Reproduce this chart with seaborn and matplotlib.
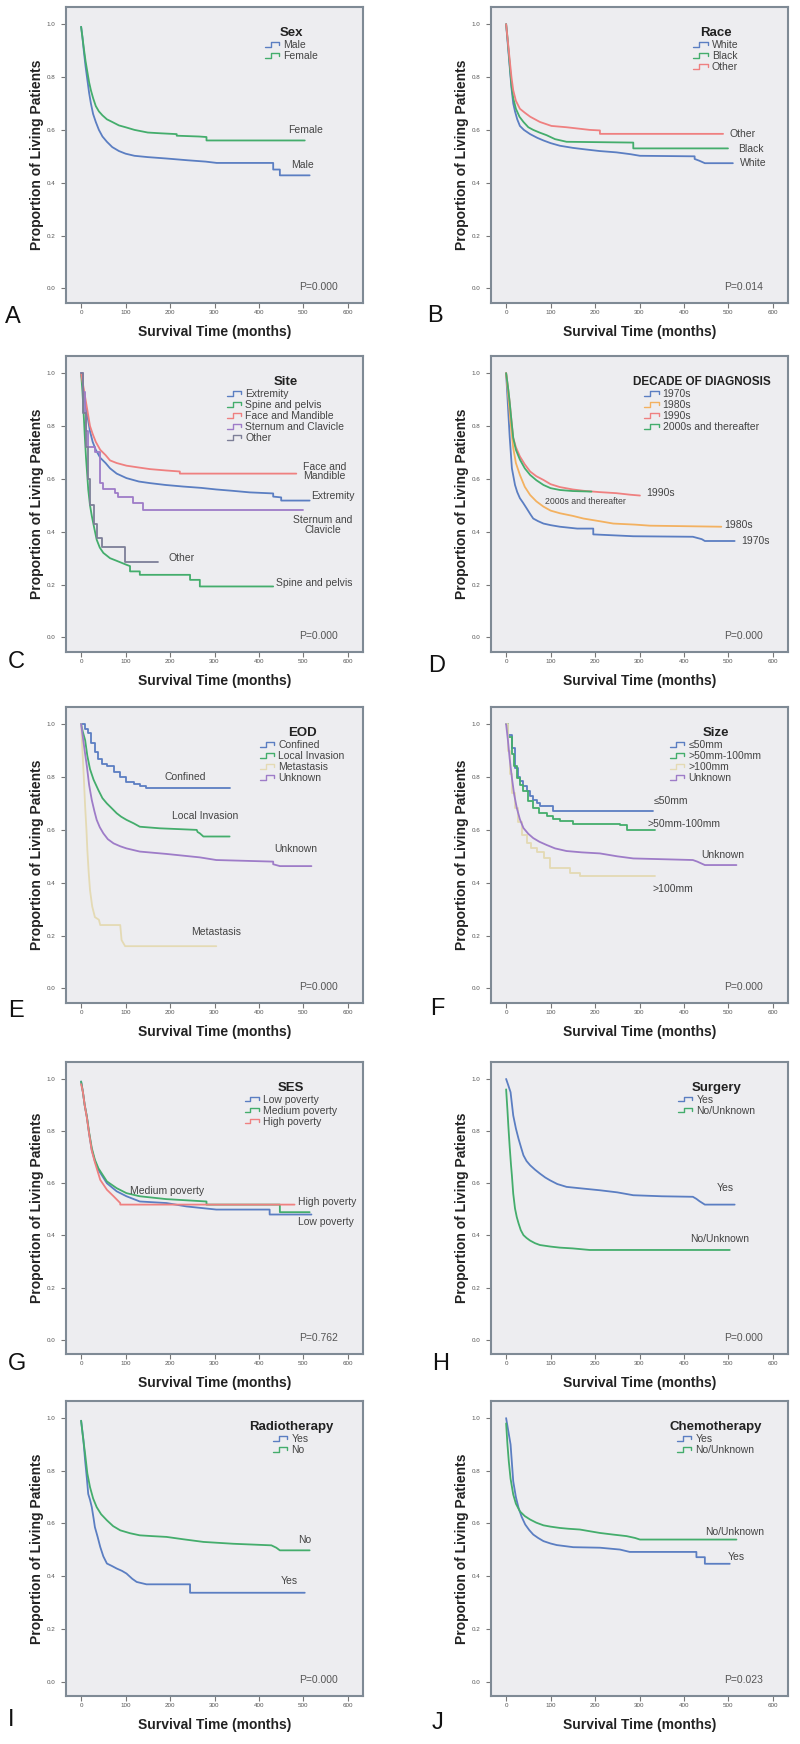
import numpy as np
import pandas as pd
import matplotlib.pyplot as plt
import seaborn as sns
from matplotlib.lines import Line2D
from matplotlib.legend_handler import HandlerBase

# ---- data (months, proportion alive) ----
# repeated times mark a vertical drop of the survival curve
# A: Sex
A_male_t = [0, 3, 6, 10, 14, 18, 22, 27, 33, 40, 48, 58, 70, 85, 100, 120, 150, 190, 240, 280, 305, 432, 432, 447, 447, 514]
A_male_s = [0.99, 0.95, 0.9, 0.84, 0.79, 0.74, 0.70, 0.66, 0.63, 0.60, 0.575, 0.555, 0.535, 0.52, 0.51, 0.502, 0.497, 0.492, 0.485, 0.48, 0.475, 0.475, 0.45, 0.45, 0.428, 0.428]
A_female_t = [0, 3, 6, 10, 14, 18, 22, 27, 33, 40, 48, 58, 70, 85, 100, 120, 150, 180, 215, 215, 265, 282, 282, 503]
A_female_s = [0.99, 0.95, 0.91, 0.86, 0.82, 0.78, 0.75, 0.72, 0.69, 0.67, 0.655, 0.64, 0.63, 0.617, 0.61, 0.6, 0.59, 0.587, 0.584, 0.578, 0.575, 0.573, 0.56, 0.56]

# B: Race
B_white_t = [0, 3, 6, 9, 12, 16, 20, 25, 31, 40, 54, 70, 84, 100, 121, 150, 174, 210, 248, 280, 301, 424, 424, 435, 447, 510]
B_white_s = [1.0, 0.94, 0.88, 0.82, 0.76, 0.70, 0.67, 0.64, 0.615, 0.6, 0.584, 0.57, 0.56, 0.55, 0.54, 0.532, 0.527, 0.52, 0.515, 0.508, 0.502, 0.5, 0.49, 0.483, 0.474, 0.474]
B_black_t = [0, 3, 6, 9, 12, 16, 22, 30, 39, 50, 61, 75, 91, 110, 136, 286, 286, 499]
B_black_s = [1.0, 0.95, 0.89, 0.83, 0.77, 0.72, 0.68, 0.65, 0.63, 0.61, 0.6, 0.59, 0.58, 0.565, 0.555, 0.552, 0.53, 0.53]
B_other_t = [0, 3, 6, 9, 12, 16, 22, 31, 42, 54, 65, 76, 102, 136, 188, 211, 211, 488]
B_other_s = [1.0, 0.95, 0.9, 0.85, 0.8, 0.75, 0.71, 0.68, 0.665, 0.65, 0.64, 0.63, 0.615, 0.61, 0.6, 0.598, 0.585, 0.585]

# C: Site
C_ext_t = [0, 4, 8, 12, 16, 20, 26, 33, 43, 55, 65, 80, 102, 130, 155, 190, 230, 270, 304, 340, 379, 432, 432, 450, 450, 514]
C_ext_s = [1.0, 0.95, 0.9, 0.86, 0.82, 0.78, 0.74, 0.71, 0.68, 0.66, 0.64, 0.62, 0.603, 0.59, 0.584, 0.577, 0.571, 0.566, 0.56, 0.555, 0.549, 0.545, 0.533, 0.53, 0.518, 0.518]
C_spine_t = [0, 3, 5, 8, 11, 14, 16, 20, 24, 30, 35, 42, 50, 65, 80, 102, 110, 110, 132, 132, 245, 245, 267, 267, 432]
C_spine_s = [1.0, 0.93, 0.87, 0.77, 0.68, 0.61, 0.56, 0.5, 0.46, 0.41, 0.37, 0.34, 0.32, 0.3, 0.29, 0.275, 0.27, 0.25, 0.25, 0.237, 0.237, 0.218, 0.218, 0.193, 0.193]
C_face_t = [0, 4, 8, 12, 16, 20, 26, 33, 43, 55, 65, 80, 102, 130, 155, 190, 222, 222, 484]
C_face_s = [1.0, 0.96, 0.92, 0.88, 0.84, 0.8, 0.77, 0.74, 0.71, 0.69, 0.67, 0.66, 0.65, 0.643, 0.637, 0.632, 0.628, 0.62, 0.62]
C_stern_t = [0, 4, 8, 12, 16, 31, 43, 50, 76, 84, 117, 140, 499]
C_stern_s = [1.0, 0.93, 0.85, 0.78, 0.72, 0.70, 0.584, 0.56, 0.546, 0.533, 0.508, 0.483, 0.483]
C_other_t = [0, 5, 10, 15, 20, 28, 35, 46, 99, 174]
C_other_s = [1.0, 0.85, 0.72, 0.6, 0.5, 0.43, 0.375, 0.344, 0.284, 0.284]

# D: Decade of diagnosis
D_1970_t = [0, 4, 8, 13, 20, 25, 31, 38, 46, 55, 61, 72, 84, 100, 121, 160, 196, 196, 286, 420, 440, 447, 514]
D_1970_s = [1.0, 0.88, 0.76, 0.64, 0.577, 0.55, 0.527, 0.51, 0.489, 0.465, 0.45, 0.44, 0.431, 0.425, 0.419, 0.412, 0.412, 0.39, 0.383, 0.381, 0.372, 0.365, 0.365]
D_1980_t = [0, 4, 8, 12, 16, 22, 31, 42, 54, 68, 84, 100, 121, 150, 174, 210, 241, 290, 323, 484]
D_1980_s = [1.0, 0.93, 0.85, 0.78, 0.717, 0.66, 0.615, 0.57, 0.539, 0.515, 0.495, 0.48, 0.47, 0.46, 0.45, 0.44, 0.431, 0.427, 0.423, 0.419]
D_1990_t = [0, 4, 8, 12, 16, 22, 31, 42, 54, 68, 84, 100, 121, 150, 174, 210, 248, 280, 301]
D_1990_s = [1.0, 0.95, 0.89, 0.82, 0.755, 0.72, 0.685, 0.655, 0.628, 0.61, 0.596, 0.58, 0.569, 0.56, 0.555, 0.55, 0.546, 0.54, 0.537]
D_2000_t = [0, 4, 8, 12, 16, 22, 31, 42, 54, 68, 84, 100, 121, 150, 192]
D_2000_s = [1.0, 0.95, 0.89, 0.82, 0.755, 0.71, 0.673, 0.64, 0.615, 0.595, 0.577, 0.565, 0.558, 0.554, 0.552]

# E: EOD
E_conf_t = [0, 9, 16, 23, 31, 39, 46, 58, 73, 88, 102, 118, 132, 147, 334]
E_conf_s = [1.0, 0.98, 0.966, 0.93, 0.896, 0.87, 0.85, 0.84, 0.82, 0.8, 0.783, 0.775, 0.766, 0.76, 0.76]
E_local_t = [0, 4, 9, 14, 20, 28, 39, 48, 58, 70, 80, 90, 102, 118, 132, 177, 260, 262, 267, 275, 334]
E_local_s = [1.0, 0.97, 0.94, 0.88, 0.83, 0.79, 0.75, 0.72, 0.70, 0.68, 0.663, 0.65, 0.638, 0.625, 0.612, 0.606, 0.6, 0.592, 0.587, 0.575, 0.575]
E_meta_t = [0, 3, 6, 9, 12, 14, 17, 20, 25, 31, 40, 43, 88, 91, 99, 304]
E_meta_s = [1.0, 0.9, 0.8, 0.69, 0.6, 0.524, 0.44, 0.372, 0.31, 0.27, 0.26, 0.24, 0.24, 0.183, 0.16, 0.16]
E_unk_t = [0, 4, 8, 13, 18, 24, 30, 35, 42, 50, 60, 73, 88, 102, 132, 192, 267, 304, 432, 432, 447, 518]
E_unk_s = [1.0, 0.95, 0.9, 0.84, 0.77, 0.713, 0.67, 0.638, 0.61, 0.587, 0.565, 0.549, 0.538, 0.53, 0.518, 0.509, 0.496, 0.486, 0.48, 0.47, 0.463, 0.463]

# F: Size
F_le50_t = [0, 5, 13, 20, 26, 31, 38, 46, 54, 61, 70, 76, 106, 331]
F_le50_s = [1.0, 0.96, 0.91, 0.835, 0.8, 0.784, 0.765, 0.746, 0.73, 0.714, 0.7, 0.689, 0.673, 0.673]
F_mid_t = [0, 5, 13, 18, 24, 31, 39, 50, 61, 75, 91, 105, 121, 151, 256, 271, 334]
F_mid_s = [1.0, 0.95, 0.886, 0.84, 0.797, 0.77, 0.746, 0.71, 0.683, 0.665, 0.651, 0.64, 0.632, 0.622, 0.619, 0.6, 0.6]
F_gt100_t = [0, 4, 9, 14, 20, 27, 35, 46, 57, 69, 85, 99, 144, 166, 334]
F_gt100_s = [1.0, 0.9, 0.81, 0.74, 0.683, 0.63, 0.581, 0.55, 0.53, 0.518, 0.492, 0.454, 0.435, 0.425, 0.425]
F_unk_t = [0, 4, 8, 13, 18, 24, 31, 39, 50, 61, 75, 91, 110, 136, 170, 211, 250, 286, 420, 430, 447, 518]
F_unk_s = [1.0, 0.94, 0.87, 0.797, 0.735, 0.683, 0.64, 0.607, 0.585, 0.569, 0.555, 0.543, 0.53, 0.52, 0.515, 0.511, 0.5, 0.492, 0.486, 0.48, 0.467, 0.467]

# G: SES
G_low_t = [0, 4, 8, 13, 18, 24, 31, 39, 58, 80, 102, 132, 192, 237, 304, 424, 424, 518]
G_low_s = [0.99, 0.95, 0.9, 0.854, 0.79, 0.727, 0.685, 0.651, 0.6, 0.569, 0.55, 0.53, 0.524, 0.511, 0.499, 0.499, 0.48, 0.48]
G_med_t = [0, 4, 8, 13, 18, 24, 31, 39, 58, 80, 102, 132, 192, 282, 282, 447, 447, 514]
G_med_s = [0.99, 0.95, 0.9, 0.855, 0.795, 0.735, 0.69, 0.657, 0.607, 0.581, 0.562, 0.55, 0.539, 0.53, 0.518, 0.518, 0.489, 0.489]
G_high_t = [0, 4, 8, 13, 18, 24, 31, 43, 58, 73, 88, 88, 480]
G_high_s = [0.98, 0.95, 0.9, 0.85, 0.79, 0.725, 0.68, 0.613, 0.575, 0.55, 0.524, 0.518, 0.518]

# H: Surgery
H_yes_t = [0, 5, 10, 16, 22, 28, 34, 39, 46, 54, 65, 76, 88, 99, 115, 136, 170, 211, 250, 286, 350, 420, 428, 435, 447, 514]
H_yes_s = [1.0, 0.975, 0.949, 0.86, 0.81, 0.77, 0.735, 0.707, 0.685, 0.669, 0.652, 0.637, 0.622, 0.611, 0.597, 0.586, 0.58, 0.573, 0.565, 0.554, 0.55, 0.548, 0.54, 0.531, 0.518, 0.518]
H_no_t = [0, 3, 5, 8, 11, 13, 16, 20, 24, 28, 33, 39, 46, 54, 65, 76, 100, 121, 150, 188, 503]
H_no_s = [0.96, 0.88, 0.82, 0.74, 0.67, 0.63, 0.56, 0.503, 0.47, 0.446, 0.42, 0.401, 0.39, 0.38, 0.37, 0.363, 0.357, 0.353, 0.35, 0.344, 0.344]

# I: Radiotherapy
I_yes_t = [0, 5, 9, 13, 16, 20, 24, 28, 31, 37, 43, 50, 58, 70, 80, 92, 102, 115, 125, 147, 245, 245, 503]
I_yes_s = [0.99, 0.92, 0.839, 0.77, 0.712, 0.69, 0.662, 0.62, 0.586, 0.55, 0.511, 0.475, 0.448, 0.438, 0.429, 0.42, 0.41, 0.39, 0.378, 0.369, 0.369, 0.337, 0.337]
I_no_t = [0, 4, 9, 14, 20, 27, 35, 45, 58, 72, 88, 110, 132, 160, 192, 230, 275, 342, 428, 439, 447, 514]
I_no_s = [0.99, 0.93, 0.864, 0.79, 0.738, 0.695, 0.662, 0.635, 0.612, 0.59, 0.574, 0.563, 0.555, 0.552, 0.549, 0.54, 0.53, 0.523, 0.517, 0.508, 0.498, 0.498]

# J: Chemotherapy
J_yes_t = [0, 5, 10, 16, 22, 28, 35, 43, 52, 61, 72, 84, 100, 114, 151, 211, 256, 278, 428, 428, 447, 447, 503]
J_yes_s = [1.0, 0.95, 0.9, 0.76, 0.7, 0.659, 0.625, 0.596, 0.575, 0.558, 0.545, 0.533, 0.524, 0.518, 0.51, 0.508, 0.501, 0.492, 0.492, 0.472, 0.472, 0.447, 0.447]
J_no_t = [0, 3, 6, 10, 16, 22, 31, 42, 54, 68, 84, 100, 121, 140, 166, 190, 211, 240, 271, 290, 301, 518]
J_no_s = [0.98, 0.9, 0.836, 0.77, 0.71, 0.675, 0.646, 0.628, 0.615, 0.603, 0.593, 0.588, 0.583, 0.58, 0.577, 0.57, 0.564, 0.558, 0.552, 0.545, 0.539, 0.539]

p_values = ['P=0.000', 'P=0.014', 'P=0.000', 'P=0.000', 'P=0.000',
            'P=0.000', 'P=0.762', 'P=0.000', 'P=0.000', 'P=0.023']

BLUE, GREEN, RED = '#5B7EC2', '#44AD6C', '#EF8080'
PURPLE, BEIGE, ORANGE, SLATE = '#9E7CC8', '#E4DAB4', '#F3B160', '#7D7F98'

# 'S' = drawn as a staircase (steps-post), 'L' = plain line through the points
panels = [
    dict(letter='A', title='Sex', groups=['Male', 'Female'],
         curves=[(A_male_t, A_male_s), (A_female_t, A_female_s)], colors=[BLUE, GREEN], styles='LL',
         labels=[('Female', 465, 0.60, 'left'), ('Male', 473, 0.466, 'left')], leg_x=0.76),
    dict(letter='B', title='Race', groups=['White', 'Black', 'Other'],
         curves=[(B_white_t, B_white_s), (B_black_t, B_black_s), (B_other_t, B_other_s)],
         colors=[BLUE, GREEN, RED], styles='LLL',
         labels=[('Other', 503, 0.584, 'left'), ('Black', 521, 0.527, 'left'),
                 ('White', 525, 0.474, 'left')], leg_x=0.757),
    dict(letter='C', title='Site',
         groups=['Extremity', 'Spine and pelvis', 'Face and Mandible', 'Sternum and Clavicle', 'Other'],
         curves=[(C_ext_t, C_ext_s), (C_spine_t, C_spine_s), (C_face_t, C_face_s),
                 (C_stern_t, C_stern_s), (C_other_t, C_other_s)],
         colors=[BLUE, GREEN, RED, PURPLE, SLATE], styles='LLLSS',
         labels=[('Face and\nMandible', 547, 0.628, 'center'), ('Extremity', 518, 0.536, 'left'),
                 ('Sternum and\nClavicle', 544, 0.425, 'center'), ('Other', 196, 0.30, 'left'),
                 ('Spine and pelvis', 439, 0.206, 'left')], leg_x=0.74),
    dict(letter='D', title='DECADE OF DIAGNOSIS', groups=['1970s', '1980s', '1990s', '2000s and thereafter'],
         curves=[(D_1970_t, D_1970_s), (D_1980_t, D_1980_s), (D_1990_t, D_1990_s), (D_2000_t, D_2000_s)],
         colors=[BLUE, ORANGE, RED, GREEN], styles='LLLL',
         labels=[('1990s', 316, 0.546, 'left'), ('1980s', 491, 0.425, 'left'),
                 ('1970s', 529, 0.364, 'left'), ('2000s and thereafter', 88, 0.514, 'left', 6.3)],
         leg_x=0.709, title_size=8.5),
    dict(letter='E', title='EOD', groups=['Confined', 'Local Invasion', 'Metastasis', 'Unknown'],
         curves=[(E_conf_t, E_conf_s), (E_local_t, E_local_s), (E_meta_t, E_meta_s), (E_unk_t, E_unk_s)],
         colors=[BLUE, GREEN, BEIGE, PURPLE], styles='SLLL',
         labels=[('Confined', 188, 0.80, 'left'), ('Local Invasion', 204, 0.653, 'left'),
                 ('Unknown', 435, 0.527, 'left'), ('Metastasis', 248, 0.215, 'left')], leg_x=0.796),
    dict(letter='F', title='Size', groups=['≤50mm', '>50mm-100mm', '>100mm', 'Unknown'],
         curves=[(F_le50_t, F_le50_s), (F_mid_t, F_mid_s), (F_gt100_t, F_gt100_s), (F_unk_t, F_unk_s)],
         colors=[BLUE, GREEN, BEIGE, PURPLE], styles='SSSL',
         labels=[('≤50mm', 331, 0.708, 'left'), ('>50mm-100mm', 319, 0.622, 'left'),
                 ('Unknown', 439, 0.505, 'left'), ('>100mm', 330, 0.378, 'left')], leg_x=0.757),
    dict(letter='G', title='SES', groups=['Low poverty', 'Medium poverty', 'High poverty'],
         curves=[(G_low_t, G_low_s), (G_med_t, G_med_s), (G_high_t, G_high_s)],
         colors=[BLUE, GREEN, RED], styles='LLL',
         labels=[('Medium poverty', 110, 0.569, 'left'), ('High poverty', 488, 0.527, 'left'),
                 ('Low poverty', 488, 0.45, 'left')], leg_x=0.757),
    dict(letter='H', title='Surgery', groups=['Yes', 'No/Unknown'],
         curves=[(H_yes_t, H_yes_s), (H_no_t, H_no_s)], colors=[BLUE, GREEN], styles='LL',
         labels=[('Yes', 473, 0.58, 'left'), ('No/Unknown', 413, 0.385, 'left')], leg_x=0.76),
    dict(letter='I', title='Radiotherapy', groups=['Yes', 'No'],
         curves=[(I_yes_t, I_yes_s), (I_no_t, I_no_s)], colors=[BLUE, GREEN], styles='LL',
         labels=[('No', 488, 0.536, 'left'), ('Yes', 450, 0.381, 'left')], leg_x=0.757),
    dict(letter='J', title='Chemotherapy', groups=['Yes', 'No/Unknown'],
         curves=[(J_yes_t, J_yes_s), (J_no_t, J_no_s)], colors=[BLUE, GREEN], styles='LL',
         labels=[('No/Unknown', 447, 0.567, 'left'), ('Yes', 499, 0.472, 'left')], leg_x=0.757),
]


class StepHandler(HandlerBase):
    # SPSS style step glyph in the legend
    def create_artists(self, legend, orig_handle, xdescent, ydescent, width, height, fontsize, trans):
        x0 = -xdescent
        xs = [x0, x0 + 0.35 * width, x0 + 0.35 * width, x0 + 0.85 * width, x0 + 0.85 * width]
        ys = [0.2 * height, 0.2 * height, 0.8 * height, 0.8 * height, 0.45 * height]
        ys = [y - ydescent for y in ys]
        line = Line2D(xs, ys, color=orig_handle.get_color(), lw=1.0)
        line.set_transform(trans)
        return [line]


sns.set_style('white')
plt.rcParams['font.family'] = ['Liberation Sans', 'DejaVu Sans']

W, H = 800, 1744
fig = plt.figure(figsize=(8, 17.44), dpi=100)

row_px = [(7, 303), (356, 652), (707, 1003), (1062, 1354), (1401, 1696)]
col_px = [66, 491]
letter_px = [(5, 323), (427, 322), (8, 668), (428, 672), (8, 1017), (430, 1015),
             (8, 1370), (432, 1370), (8, 1726), (432, 1729)]

for i, cfg in enumerate(panels):
    top, bot = row_px[i // 2]
    left = col_px[i % 2]
    ax = fig.add_axes([left / W, 1 - bot / H, 297 / W, (bot - top) / H])

    for g, (t, s), c, st in zip(cfg['groups'], cfg['curves'], cfg['colors'], cfg['styles']):
        df = pd.DataFrame({'time': t, 'surv': s})
        sns.lineplot(data=df, x='time', y='surv', color=c, estimator=None, sort=False,
                     drawstyle='steps-post' if st == 'S' else 'default',
                     linewidth=1.3, ax=ax)

    ax.set_facecolor('#EDEDF0')
    ax.set_xlim(-34, 634)
    ax.set_ylim(-0.055, 1.065)
    ax.set_xticks(np.arange(0, 601, 100))
    ax.set_yticks(np.arange(0, 1.01, 0.2))
    ax.set_yticklabels([f'{v:.1f}' for v in np.arange(0, 1.01, 0.2)])
    ax.tick_params(axis='both', labelsize=4.5, labelcolor='#555555', color='#777777',
                   length=3.5, width=0.8, direction='out')
    ax.tick_params(axis='y', pad=4)
    ax.tick_params(axis='x', pad=1.5)
    ax.tick_params(left=True, bottom=True)
    for sp in ax.spines.values():
        sp.set_color('#7F8A95')
        sp.set_linewidth(1.5)
        sp.set_visible(True)

    ax.set_xlabel('Survival Time (months)', fontsize=10, fontweight='bold', color='#222222')
    ax.set_ylabel('Proportion of Living Patients', fontsize=10, fontweight='bold', color='#222222')
    ax.xaxis.set_label_coords(0.5, -0.074)
    ax.yaxis.set_label_coords(-0.075, 0.5)

    handles = [Line2D([], [], color=c, lw=1.0) for c in cfg['colors']]
    leg = ax.legend(handles, cfg['groups'], loc='upper center', bbox_to_anchor=(cfg['leg_x'], 0.95),
                    frameon=False, fontsize=7.5, title=cfg['title'],
                    title_fontsize=cfg.get('title_size', 9.5), borderpad=0, labelspacing=0.1,
                    handlelength=1.6, handletextpad=0.15, handler_map={Line2D: StepHandler()})
    leg.get_title().set_fontweight('bold')
    leg.get_title().set_color('#222222')
    for txt in leg.get_texts():
        txt.set_color('#444444')

    for lab in cfg['labels']:
        fs = lab[4] if len(lab) > 4 else 7.5
        ax.text(lab[1], lab[2], lab[0], ha=lab[3], va='center', fontsize=fs,
                color='#444444', linespacing=0.95)

    ax.text(491, 0.005, p_values[i], ha='left', va='center', fontsize=7.5, color='#555555')

    lx, ly = letter_px[i]
    fig.text(lx / W, 1 - ly / H, cfg['letter'], fontsize=17, va='baseline', ha='left', color='#111111')

fig.savefig('out.png', dpi=100, facecolor='white')
